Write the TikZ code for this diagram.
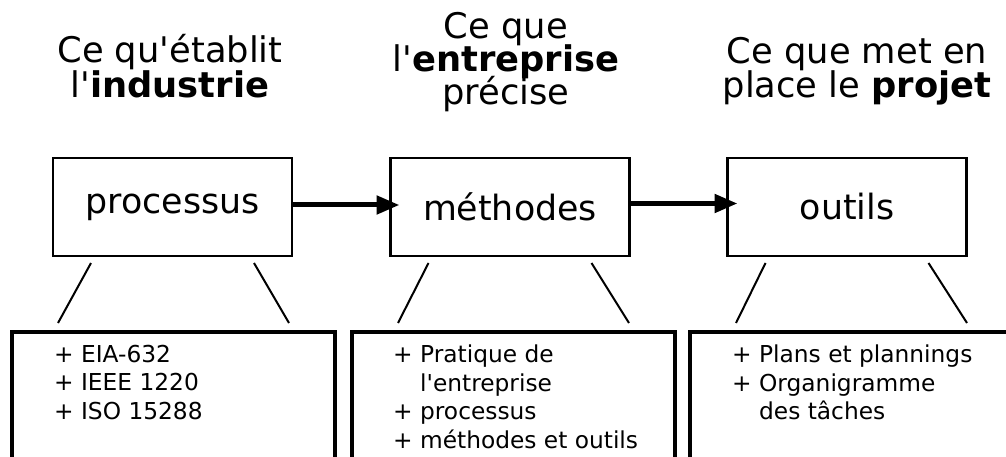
\documentclass[tikz,border=0pt]{standalone}
\usepackage{fontspec}
\setmainfont{DejaVu Sans}
\usetikzlibrary{positioning,arrows.meta,calc}
\newcommand{\apos}{\textquotesingle}
\newcommand{\headfont}{\fontsize{35.3}{34.8}\selectfont\setlength{\lineskiplimit}{-20pt}}
\tikzset{
   stage/.style={draw, line width=2.2pt, outer sep=0pt, inner sep=0pt,
      minimum width=239pt, minimum height=98pt,
      font=\fontsize{34.8}{36}\selectfont},
   panel/.style={draw, line width=3.5pt, outer sep=0pt, inner sep=0pt,
      minimum width=323pt, minimum height=170pt, anchor=north west},
   items/.style={align=left, anchor=north west, inner sep=0pt,
      font=\fontsize{23.3}{28.4}\selectfont},
   heading/.style={align=center, anchor=base, inner sep=0pt, font=\headfont},
   flow/.style={line width=5pt, -{Triangle[length=23pt,width=18pt]}},
   branch/.style={line width=2pt},
}

\begin{document}
\begin{tikzpicture}[x=1pt, y=-1pt]
    \clip (0,0) rectangle (1006,457);
    % Titles above each stage
    \node[heading] (industrie) at (170,98) {Ce qu\apos{}établit\\[1pt]l\apos\textbf{industrie}};
    \node[heading] (entreprise) at (506,105) {Ce que\\[-1.5pt]l\apos\textbf{entreprise}\\[-1.5pt]précise};
    \node[heading] (projet) at (857,98) {Ce que met en\\place le \textbf{projet}};

    % The three stages
    \node[stage] (processus) at (172.5,207) {processus};
    \node[stage] (methodes) at (510,207) {méthodes};
    \node[stage] (outils) at (847,207) {outils};

    % Arrows between stages
    \draw[flow] ([yshift=2pt]processus.east) -- ([xshift=9pt,yshift=2pt]methodes.west);
    \draw[flow] ([yshift=3.5pt]methodes.east) -- ([xshift=10pt,yshift=3.5pt]outils.west);

    % Detail panels, open at the bottom
    \node[panel] (normes) at (12,332) {};
    \node[panel] (pratiques) at (352,332) {};
    \node[panel] (planning) at (690,332) {};

    \node[items] (normesTxt) at ([xshift=42pt,yshift=-13pt]normes.north west)
       {+ EIA-632\\+ IEEE 1220\\+ ISO 15288};
    \node[items] (pratiquesTxt) at ([xshift=41pt,yshift=-13pt]pratiques.north west)
       {+ Pratique de\\\phantom{+ }l\apos{}entreprise\\+ processus\\+ méthodes et outils};
    \node[items] (planningTxt) at ([xshift=42pt,yshift=-13pt]planning.north west)
       {+ Plans et plannings\\+ Organigramme\\\phantom{+ }des tâches};

    % Splay lines from each stage to its panel
    \foreach \s/\p in {processus/normes, methodes/pratiques, outils/planning} {
       \draw[branch] ([xshift=38pt,yshift=-7pt]\s.south west) -- ([xshift=46pt,yshift=9pt]\p.north west);
       \draw[branch] ([xshift=-38pt,yshift=-7pt]\s.south east) -- ([xshift=-46pt,yshift=9pt]\p.north east);
    }
\end{tikzpicture}
\end{document}
